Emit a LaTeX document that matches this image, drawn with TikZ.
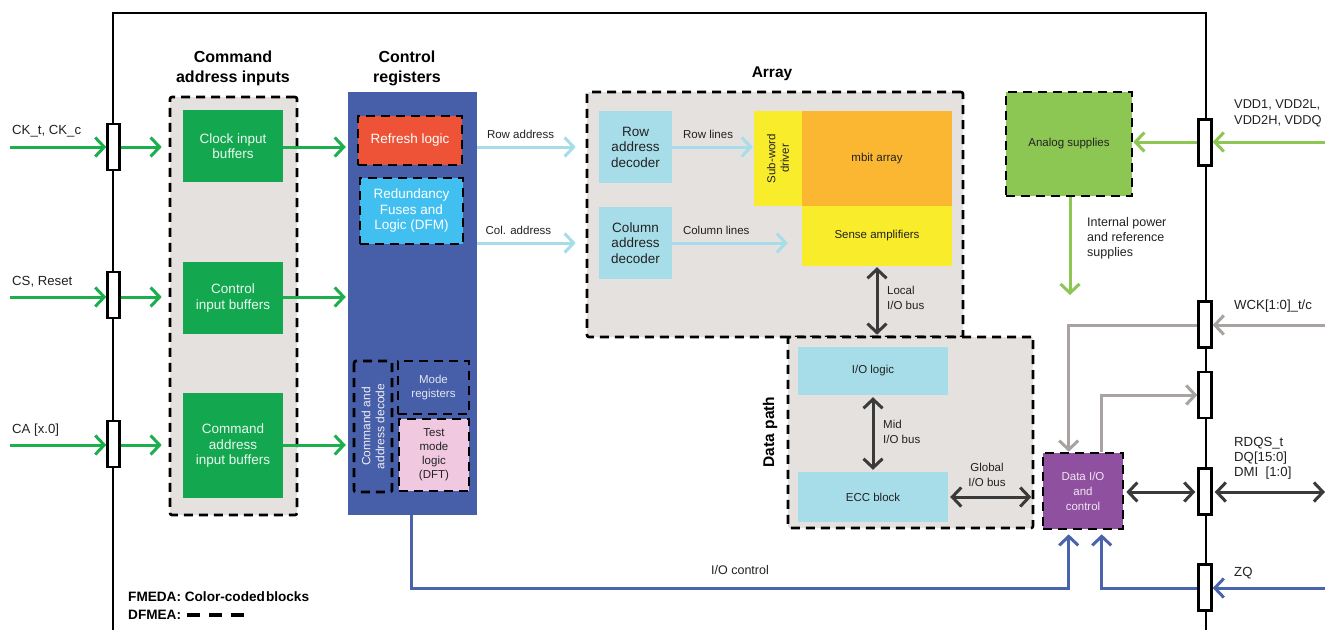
\documentclass[tikz,border=0pt]{standalone}
\usepackage{fontspec}
\setmainfont{Liberation Sans}
\usetikzlibrary{arrows.meta,calc}
\definecolor{arrgreen}{HTML}{1DAE4E}
\definecolor{boxgreen}{HTML}{13A84F}
\definecolor{bggray}{HTML}{E4E1DE}
\definecolor{regblue}{HTML}{475EA8}
\definecolor{refred}{HTML}{EE5337}
\definecolor{redblue}{HTML}{40BFF0}
\definecolor{decblue}{HTML}{A7DDE9}
\definecolor{arrcyan}{HTML}{A7DDEA}
\definecolor{ylw}{HTML}{F8EC2B}
\definecolor{orng}{HTML}{FBB731}
\definecolor{purp}{HTML}{8F519F}
\definecolor{pink}{HTML}{F0C9E1}
\definecolor{lgreen}{HTML}{8CC653}
\definecolor{garr}{HTML}{A8A2A0}
\definecolor{darkarr}{HTML}{3A3A3A}
\definecolor{ioblue}{HTML}{4A63AD}
\definecolor{txtdark}{HTML}{222222}
\newcommand\fA{\fontsize{13.5}{15.5}\selectfont}
\newcommand\fB{\fontsize{11.5}{15}\selectfont}
\newcommand\fT{\fontsize{16}{20}\selectfont\bfseries}
\newcommand\fC{\fontsize{13.2}{16}\selectfont}
\begin{document}
\begin{tikzpicture}[x=1pt,y=-1pt,
  blk/.style={rectangle, inner sep=0pt, align=center},
  dims/.style 2 args={minimum width=#1, minimum height=#2},
  dbox/.style={draw=black, line width=2.6pt, dash pattern=on 9pt off 6pt},
  conn/.style={draw=black, fill=white, line width=2.4pt, inner sep=0pt, minimum width=12, minimum height=46},
  frame/.style={draw=black, line width=2.6pt},
  tip/.style={-{Straight Barb[length=9pt,width=19pt]}},
  dtip/.style={{Straight Barb[length=9pt,width=19pt]}-{Straight Barb[length=9pt,width=19pt]}},
  garrow/.style={draw=arrgreen, line width=3pt, tip},
  carrow/.style={draw=arrcyan, line width=3pt, tip},
  larrow/.style={draw=lgreen, line width=3pt, tip},
  grarrow/.style={draw=garr, line width=3pt, tip},
  barrow/.style={draw=ioblue, line width=3pt, tip},
  darrow/.style={draw=darkarr, line width=3pt, dtip},
  lbl/.style={inner sep=0pt, align=left, text=txtdark, font=\fB},
]
\useasboundingbox (0,0) rectangle (1325,630);
\fill[white] (0,0) rectangle (1325,630);

% frame
\draw[frame] (113,630) -- (113,13) -- (1206,13) -- (1206,630);

% connectors on bus
\node[conn] (lc1) at (113.5,147) {};
\node[conn] (lc2) at (113.5,295) {};
\node[conn] (lc3) at (113.5,444) {};
\node[conn, minimum width=13] (rc1) at (1205,142.5) {};
\node[conn, minimum width=13] (rc2) at (1205,324.5) {};
\node[conn, minimum width=13] (rc3) at (1205,395) {};
\node[conn, minimum width=13] (rc4) at (1205,491.5) {};
\node[conn, minimum width=13] (rc5) at (1205,587.5) {};

% command address inputs
\node[blk, dbox, fill=bggray, rounded corners=2pt, dims={127}{418}] (cai) at (233.5,306) {};
\node[blk, fill=boxgreen, dims={100}{72}, text=white!92!boxgreen, font=\fA] (clk) at (233,146) {Clock input\\buffers};
\node[blk, fill=boxgreen, dims={100}{72}, text=white!92!boxgreen, font=\fA] (ctl) at (233,298) {Control\\input buffers};
\node[blk, fill=boxgreen, dims={100}{105}, text=white!92!boxgreen, font=\fA] (cab) at (233,445.5) {Command\\address\\input buffers};
\node[blk, font=\fT] (tcai) at (233,68) {Command\\address inputs};

% control registers
\node[blk, fill=regblue, dims={129}{423}] (creg) at (412.5,303.5) {};
\node[blk, font=\fT] (tcreg) at (407,68) {Control\\registers};
\node[blk, dbox, fill=refred, dims={104}{49}, text=white, font=\fA] (refresh) at (410,140.5) {Refresh logic};
\node[blk, dbox, fill=redblue, dims={103}{66}, text=white, font=\fA] (redund) at (411.5,211) {Redundancy\\Fuses and\\Logic (DFM)};
\node[blk, dbox, rounded corners=2pt, rotate=90, dims={131}{38}, text=white!90!regblue, font=\fontsize{12}{14}\selectfont] (cad) at (373,426.5) {Command and\\address decode};
\node[blk, dbox, dims={71}{53}, text=white!85!regblue, font=\fontsize{11.5}{14}\selectfont] (mode) at (433.5,387.5) {Mode\\registers};
\node[blk, dbox, fill=pink, dims={70}{72}, text=txtdark, font=\fontsize{11.5}{14}\selectfont] (test) at (434,455) {Test\\mode\\logic\\(DFT)};

% array
\node[blk, dbox, fill=bggray, rounded corners=2pt, dims={376}{245}] (array) at (775,214.5) {};
\node[blk, font=\fontsize{15.5}{20}\selectfont\bfseries] (tarray) at (772,74) {Array};
\node[blk, fill=decblue, dims={73}{72}, text=txtdark, font=\fA] (rowdec) at (635.5,147) {Row\\address\\decoder};
\node[blk, fill=decblue, dims={73}{72}, text=txtdark, font=\fA] (coldec) at (635.5,243) {Column\\address\\decoder};
\node[blk, fill=ylw, rotate=90, dims={95}{48}, text=txtdark, font=\fontsize{11.5}{13.5}\selectfont] (swd) at (778,158.5) {Sub-word\\driver};
\node[blk, fill=orng, dims={150}{95}, text=txtdark, font=\fB] (mbit) at (877,158.5) {mbit array};
\node[blk, fill=ylw, dims={150}{60}, text=txtdark, font=\fB] (sense) at (877,236) {Sense amplifiers};

% data path
\node[blk, dbox, fill=bggray, rounded corners=2pt, dims={245}{191}] (datapath) at (910.5,432.5) {};
\node[blk, rotate=90, font=\fontsize{15.5}{20}\selectfont\bfseries] (tdp) at (770,432) {Data path};
\node[blk, fill=decblue, dims={150}{48}, text=txtdark, font=\fB] (iologic) at (873,371) {I/O logic};
\node[blk, fill=decblue, dims={150}{50}, text=txtdark, font=\fB] (ecc) at (873,497) {ECC block};

% data I/O and analog
\node[blk, dbox, fill=purp, dims={80}{76}, text=white!85!purp, font=\fB] (dataio) at (1083,491) {Data I/O\\and\\control};
\node[blk, dbox, fill=lgreen, dims={126}{104}, text=txtdark, font=\fB] (analog) at (1069,144) {Analog supplies};

% free ends
\coordinate (inCK) at (10,147);
\coordinate (inCS) at (10,297);
\coordinate (inCA) at (10,445);
\coordinate (inVDD) at (1325,142);
\coordinate (inWCK) at (1325,325);
\coordinate (outDQ) at (1325,492);
\coordinate (inZQ) at (1325,588);
\coordinate (pwr) at (1070,295);

% left inputs
\draw[garrow] (inCK) -- (lc1.west);
\draw[garrow] (inCS) -- (lc2.west |- inCS);
\draw[garrow] (inCA) -- (lc3.west |- inCA);
\draw[garrow, shorten >=7pt] (lc1.east) -- (cai.west |- lc1.east);
\draw[garrow, shorten >=7pt] (lc2.east |- inCS) -- (cai.west |- inCS);
\draw[garrow, shorten >=7pt] (lc3.east |- inCA) -- (cai.west |- inCA);
\draw[garrow, shorten >=2pt] (clk.east |- inCK) -- (creg.west |- inCK);
\draw[garrow, shorten >=2pt] (ctl.east |- inCS) -- (creg.west |- inCS);
\draw[garrow, shorten >=2pt] (cab.east |- inCA) -- (creg.west |- inCA);

% address arrows
\draw[carrow, shorten >=10pt] (creg.east |- rowdec) -- node[lbl, above=7pt, pos=0.4] {Row address} (array.west |- rowdec);
\draw[carrow, shorten >=10pt] (creg.east |- coldec) -- node[lbl, above=7pt, pos=0.38] {Col. address} (array.west |- coldec);
\draw[carrow, shorten >=1pt] (rowdec.east) -- node[lbl, above=7pt, pos=0.44] {Row lines} (swd.north |- rowdec.east);
\draw[carrow, shorten >=14pt] (coldec.east) -- node[lbl, above=7pt, pos=0.34] {Column lines} (sense.west |- coldec.east);

% buses
\draw[darrow, shorten <=1pt, shorten >=1pt] (sense.south) -- (sense.south |- datapath.north);
\node[lbl, anchor=west] (llio) at (887,298) {Local\\I/O bus};
\draw[darrow, shorten <=2pt, shorten >=2pt] (iologic.south) -- (ecc.north);
\node[lbl, anchor=west] (lmio) at (883,432) {Mid\\I/O bus};
\draw[darrow, shorten <=2pt, shorten >=3pt] (ecc.east) -- (datapath.east |- ecc.east);
\node[lbl, align=center] (lgio) at (987,475) {Global\\I/O bus};

% power
\draw[larrow] (inVDD) -- (rc1.east |- inVDD);
\draw[larrow] (rc1.west |- inVDD) -- (analog.east |- inVDD);
\draw[larrow] (analog.south -| pwr) -- (pwr);
\node[lbl, anchor=west, font=\fontsize{12.5}{15}\selectfont] (lpwr) at (1087,238) {Internal power\\and reference\\supplies};

% WCK
\draw[grarrow] (inWCK) -- (rc2.east |- inWCK);
\draw[grarrow] (rc2.west |- inWCK) -| ($(dataio.north west)+(27,0)$);
\draw[grarrow] ($(dataio.north west)+(60,0)$) |- (rc3.west);

% DQ
\draw[darrow, shorten <=2pt, shorten >=2pt] (dataio.east |- outDQ) -- (rc4.west |- outDQ);
\draw[darrow, shorten <=2pt] (rc4.east |- outDQ) -- (outDQ);

% ZQ and I/O control
\draw[barrow] (inZQ) -- (rc5.east |- inZQ);
\draw[barrow, shorten >=4pt] (rc5.west |- inZQ) -| ($(dataio.south west)+(60,0)$);
\draw[barrow, shorten >=4pt] ([xshift=-1.5pt]creg.south) -- ++(0,73) -| ($(dataio.south west)+(27,0)$);
\node[lbl, font=\fontsize{12.5}{15}\selectfont] (lioc) at (740,570) {I/O control};

% outside labels
\node[lbl, anchor=west, font=\fC] (lck) at (12,131) {CK\_t, CK\_c};
\node[lbl, anchor=west, font=\fC] (lcs) at (12,282) {CS, Reset};
\node[lbl, anchor=west, font=\fC] (lca) at (12,430) {CA [x.0]};
\node[lbl, anchor=west, font=\fontsize{12.8}{16}\selectfont] (lvdd) at (1234,113) {VDD1, VDD2L,\\VDD2H, VDDQ};
\node[lbl, anchor=west, font=\fC] (lwck) at (1234,306) {WCK[1:0]\_t/c};
\node[lbl, anchor=west, font=\fontsize{13.2}{15}\selectfont] (ldq) at (1234,458) {RDQS\_t\\DQ[15:0]\\DMI\ \ [1:0]};
\node[lbl, anchor=west, font=\fC] (lzq) at (1234,573) {ZQ};

% legend
\node[lbl, anchor=west, text=black, font=\fontsize{13.6}{15}\selectfont\bfseries] (leg1) at (128,597) {FMEDA: Color-coded\hspace{0.08em}blocks};
\node[lbl, anchor=west, text=black, font=\fontsize{13.6}{15}\selectfont\bfseries] (leg2) at (128,615) {DFMEA:};
\draw[black, line width=4pt, dash pattern=on 13pt off 9pt] (187,615) -- (249,615);
\end{tikzpicture}
\end{document}
